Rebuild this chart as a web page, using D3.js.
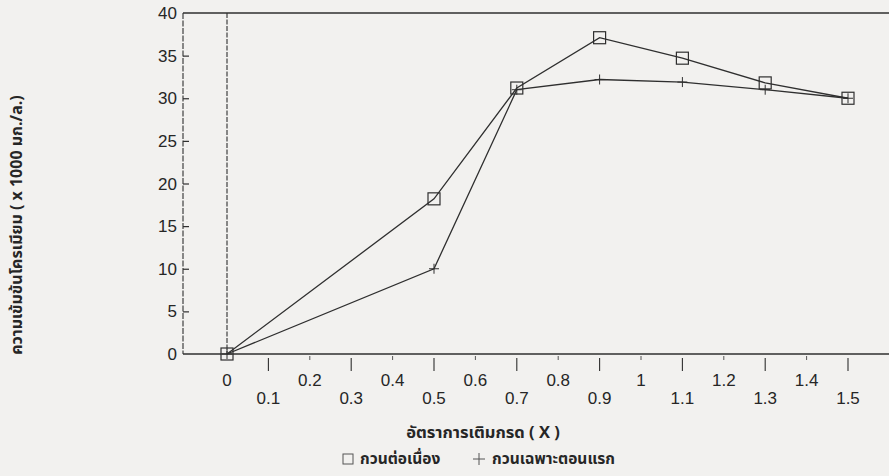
<!DOCTYPE html>
<html>
<head>
<meta charset="utf-8">
<script src="https://cdn.jsdelivr.net/npm/d3@7"></script>
<style>
  html, body { margin: 0; padding: 0; background: #f2f1ef; }
  svg { display: block; }
  .tick-label { font-family: "Liberation Sans", Arial, sans-serif; font-size: 17px; fill: #262626; }
  .thai { font-family: "Noto Sans Thai", "Noto Sans", "DejaVu Sans", sans-serif; font-weight: bold; fill: #262626; }
</style>
</head>
<body>
<svg id="chart" width="889" height="476"></svg>
<script>
// Acid dosing rate (X) and chromium concentration (x 1000 mg/L)
const doses = [0, 0.5, 0.7, 0.9, 1.1, 1.3, 1.5];
const continuousStir = [0, 18.2, 31.2, 37.1, 34.7, 31.8, 30.0];   // กวนต่อเนื่อง
const initialStir = [0, 10.0, 31.0, 32.2, 31.9, 31.0, 30.0];      // กวนเฉพาะตอนแรก
const xTickValues = [0, 0.1, 0.2, 0.3, 0.4, 0.5, 0.6, 0.7, 0.8, 0.9, 1, 1.1, 1.2, 1.3, 1.4, 1.5];
const yTickValues = [0, 5, 10, 15, 20, 25, 30, 35, 40];

const svg = d3.select("#chart");

const frame = { left: 183, right: 895, top: 13, bottom: 354 };

const x = d3.scaleLinear().domain([0, 1.5]).range([227, 848]);
const y = d3.scaleLinear().domain([0, 40]).range([frame.bottom, frame.top]);

const ink = "#2f2f2f";

// frame: top edge, left axis, bottom axis
svg.append("line").attr("x1", frame.left).attr("x2", frame.right)
  .attr("y1", frame.top).attr("y2", frame.top)
  .attr("stroke", ink).attr("stroke-width", 1.6);
svg.append("line").attr("x1", frame.left).attr("x2", frame.right)
  .attr("y1", frame.bottom).attr("y2", frame.bottom)
  .attr("stroke", ink).attr("stroke-width", 1.6);
svg.append("line").attr("x1", frame.left).attr("x2", frame.left)
  .attr("y1", frame.top).attr("y2", frame.bottom)
  .attr("stroke", ink).attr("stroke-width", 1.1).attr("stroke-dasharray", "6,1.5");

// reference line at X = 0
svg.append("line").attr("x1", x(0)).attr("x2", x(0))
  .attr("y1", frame.top).attr("y2", frame.bottom)
  .attr("stroke", ink).attr("stroke-width", 1.1).attr("stroke-dasharray", "5,1.5");

// y axis: inward ticks and labels
const yAxis = d3.axisRight(y).tickValues(yTickValues.filter(v => v > 0 && v < 40)).tickSize(6).tickFormat("");
const gy = svg.append("g").attr("transform", `translate(${frame.left},0)`).call(yAxis);
gy.select(".domain").remove();
gy.selectAll(".tick line").attr("stroke", ink).attr("stroke-width", 1.2);

svg.append("g").selectAll("text").data(yTickValues).join("text")
  .attr("class", "tick-label")
  .attr("x", 177).attr("y", d => y(d))
  .attr("dy", "0.36em")
  .attr("text-anchor", "end")
  .text(d => d);

// x axis: long ticks at odd tenths, short marks at even tenths
const isOdd = v => Math.round(v * 10) % 2 === 1;
const gx = svg.append("g");
gx.selectAll("line").data(xTickValues.filter(v => v > 0)).join("line")
  .attr("x1", d => x(d)).attr("x2", d => x(d))
  .attr("y1", d => isOdd(d) ? frame.bottom + 4 : frame.bottom + 2)
  .attr("y2", d => isOdd(d) ? frame.bottom + 17 : frame.bottom + 6)
  .attr("stroke", ink).attr("stroke-width", d => isOdd(d) ? 1.1 : 0.8);

gx.selectAll("text").data(xTickValues).join("text")
  .attr("class", "tick-label")
  .attr("x", d => x(d))
  .attr("y", d => isOdd(d) ? 404 : 386)
  .attr("text-anchor", "middle")
  .text(d => d);

// series lines
const line = d3.line().x((d, i) => x(doses[i])).y(d => y(d));
svg.append("path").datum(initialStir).attr("d", line)
  .attr("fill", "none").attr("stroke", ink).attr("stroke-width", 1.3);
svg.append("path").datum(continuousStir).attr("d", line)
  .attr("fill", "none").attr("stroke", ink).attr("stroke-width", 1.3);

// square markers
const sq = 12;
svg.append("g").selectAll("rect").data(continuousStir).join("rect")
  .attr("x", (d, i) => x(doses[i]) - sq / 2)
  .attr("y", d => y(d) - sq / 2)
  .attr("width", sq).attr("height", sq)
  .attr("fill", "none").attr("stroke", ink).attr("stroke-width", 1.2);

// plus markers
const pl = 5;
const plus = svg.append("g").selectAll("g").data(initialStir).join("g")
  .attr("transform", (d, i) => `translate(${x(doses[i])},${y(d)})`);
plus.append("line").attr("x1", -pl).attr("x2", pl).attr("y1", 0).attr("y2", 0)
  .attr("stroke", ink).attr("stroke-width", 1);
plus.append("line").attr("x1", 0).attr("x2", 0).attr("y1", -pl).attr("y2", pl)
  .attr("stroke", ink).attr("stroke-width", 1);

// axis titles
svg.append("text").attr("class", "thai")
  .attr("x", 483).attr("y", 438).attr("text-anchor", "middle")
  .attr("font-size", 16.5)
  .text("อัตราการเติมกรด ( X )");

svg.append("text").attr("class", "thai")
  .attr("transform", "translate(22,225) rotate(-90)")
  .attr("text-anchor", "middle").attr("font-size", 16)
  .text("ความเข้มข้นโครเมียม ( x 1000 มก./ล.)");

// legend
const legend = svg.append("g").attr("transform", "translate(0,459)");
legend.append("rect").attr("x", 343).attr("y", -5).attr("width", 10).attr("height", 10)
  .attr("fill", "none").attr("stroke", "#555").attr("stroke-width", 1);
legend.append("text").attr("class", "thai").attr("x", 360).attr("y", 5)
  .attr("font-size", 15.5).text("กวนต่อเนื่อง");
const lp = legend.append("g").attr("transform", "translate(479,0)");
lp.append("line").attr("x1", -6).attr("x2", 6).attr("stroke", "#555");
lp.append("line").attr("y1", -6).attr("y2", 6).attr("stroke", "#555");
legend.append("text").attr("class", "thai").attr("x", 492).attr("y", 5)
  .attr("font-size", 15.5).text("กวนเฉพาะตอนแรก");
</script>
</body>
</html>
